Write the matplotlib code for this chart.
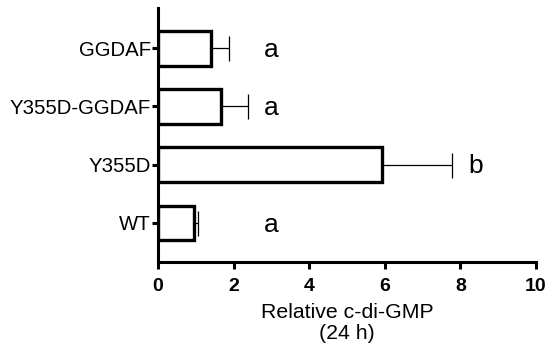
import matplotlib
matplotlib.use("Agg")
import matplotlib.pyplot as plt

plt.rcParams["font.family"] = ["Liberation Sans", "DejaVu Sans"]

# data, bottom to top
strains = ["WT", "Y355D", "Y355D-GGDAF", "GGDAF"]
means = [0.95, 5.93, 1.67, 1.40]
errs = [0.11, 1.85, 0.71, 0.48]
groups = ["a", "b", "a", "a"]
letter_x = [3.0, 8.4, 3.0, 3.0]

fig = plt.figure(figsize=(5.46, 3.56), dpi=100)
ax = fig.add_axes([0.2894, 0.2640, 0.6923, 0.7135])

pos = list(range(len(strains)))
ax.barh(pos, means, height=0.6, color="white", edgecolor="black", linewidth=2.4, zorder=2)
ax.errorbar(means, pos, xerr=[[0] * len(errs), errs], fmt="none", ecolor="black",
            elinewidth=0.9, capsize=9, capthick=0.9, zorder=1)

for y, (lab, lx) in enumerate(zip(groups, letter_x)):
    ax.text(lx, y - 0.03, lab, ha="center", va="center", fontsize=19)

ax.set_xlim(0, 10)
ax.set_ylim(-0.67, 3.69)
ax.set_xticks([0, 2, 4, 6, 8, 10])
ax.set_yticks(pos)
ax.set_yticklabels(strains, fontsize=14.7)
for t in ax.get_xticklabels():
    t.set_fontweight("bold")
    t.set_fontsize(14)
ax.set_xlabel("Relative c-di-GMP\n(24 h)", fontsize=15.3, labelpad=6, linespacing=1.1)

for side in ["top", "right"]:
    ax.spines[side].set_visible(False)
for side in ["left", "bottom"]:
    ax.spines[side].set_linewidth(2.2)
ax.tick_params(axis="x", length=5, width=2.2, pad=6.5)
ax.tick_params(axis="y", length=4, width=2.2, pad=1)

fig.savefig("out.png", dpi=100)
